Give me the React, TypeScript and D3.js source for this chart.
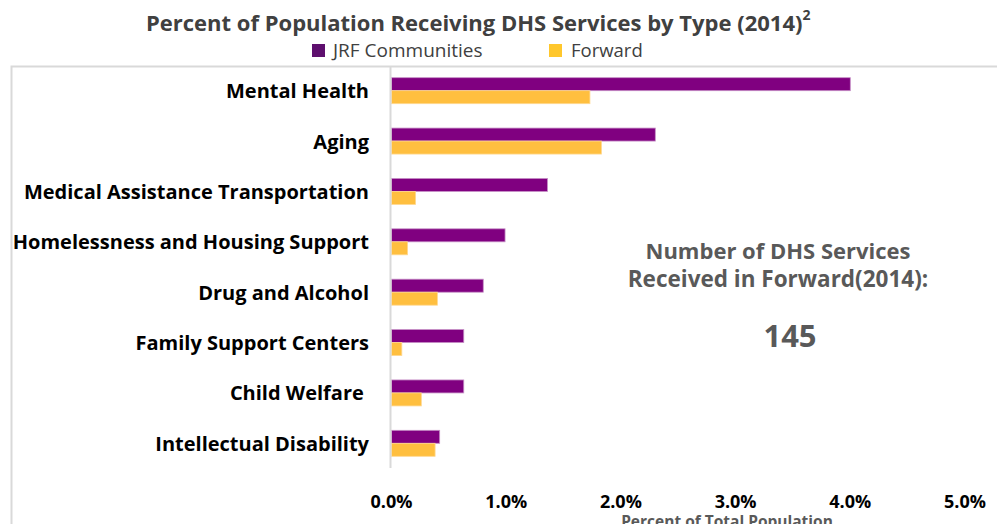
import React from "react";
import * as d3 from "d3";

const categories = [
  "Mental Health",
  "Aging",
  "Medical Assistance Transportation",
  "Homelessness and Housing Support",
  "Drug and Alcohol",
  "Family Support Centers",
  "Child Welfare ",
  "Intellectual Disability",
];
const jrfValues = [0.04, 0.023, 0.0136, 0.0099, 0.008, 0.0063, 0.0063, 0.0042];
const forwardValues = [0.0173, 0.0183, 0.0021, 0.0014, 0.004, 0.0009, 0.0026, 0.0038];
const seriesNames = ["JRF Communities", "Forward"];
const xTicks = [0, 0.01, 0.02, 0.03, 0.04, 0.05];
const servicesCount = "145";

const W = 997;
const H = 524;
const FONT = "'Open Sans', Lato, sans-serif";
const PURPLE = "#800080";
const YELLOW = "#FFBF3F";

export default function App() {
  const x = d3.scaleLinear().domain([0, 0.05]).range([391.5, 965]);
  const y = d3
    .scaleBand<string>()
    .domain(categories)
    .range([65.5, 468.5])
    .paddingInner(0.484)
    .paddingOuter(0.242);
  const inner = d3
    .scaleBand<string>()
    .domain(["jrf", "fwd"])
    .range([0, y.bandwidth()]);
  const fmt = d3.format(".1%");

  return (
    <svg
      width={W}
      height={H}
      style={{ position: "absolute", left: 0, top: 0, background: "#fff" }}
      fontFamily={FONT}
    >
      {/* title */}
      <text x={146} y={30.5} fontSize={22} fontWeight={700} fill="#404040">
        Percent of Population Receiving DHS Services by Type (2014)
        <tspan fontSize={14} dy={-11}>2</tspan>
      </text>

      {/* legend */}
      <rect x={312} y={44} width={13} height={13} fill="#5E0F6E" />
      <text x={333} y={57} fontSize={19} fill="#404040">{seriesNames[0]}</text>
      <rect x={549} y={44} width={13} height={13} fill="#FFC72C" />
      <text x={571} y={57} fontSize={18.5} fill="#404040">{seriesNames[1]}</text>

      {/* border box */}
      <path d={`M11.5,${H + 2} V66.5 H${W + 2}`} fill="none" stroke="#d9d9d9" strokeWidth={2} />

      {/* bars */}
      {categories.map((c, i) => (
        <g key={c}>
          <rect
            x={x(0)}
            y={(y(c) as number) + (inner("jrf") as number)}
            width={x(jrfValues[i]) - x(0)}
            height={inner.bandwidth()}
            fill={PURPLE}
            stroke="#c690c6"
            strokeWidth={0.8}
          />
          <rect
            x={x(0)}
            y={(y(c) as number) + (inner("fwd") as number)}
            width={x(forwardValues[i]) - x(0)}
            height={inner.bandwidth()}
            fill={YELLOW}
            stroke="#ffd890"
            strokeWidth={0.8}
          />
        </g>
      ))}

      {/* axis line */}
      <line x1={x(0) - 1} x2={x(0) - 1} y1={66} y2={468} stroke="#d9d9d9" strokeWidth={2} />

      {/* category labels */}
      {categories.map((c) => (
        <text
          key={c}
          x={369}
          y={(y(c) as number) + y.bandwidth() / 2 + 7.5}
          textAnchor="end"
          fontSize={20}
          fontWeight={700}
          fill="#000"
          style={{ whiteSpace: "pre" }}
        >
          {c}
        </text>
      ))}

      {/* x tick labels */}
      {xTicks.map((t) => (
        <text key={t} x={x(t)} y={508} textAnchor="middle" fontSize={18} fontWeight={700} fill="#000">
          {fmt(t)}
        </text>
      ))}
      <text x={727} y={527} textAnchor="middle" fontSize={15.5} fontWeight={700} fill="#595959">
        Percent of Total Population
      </text>

      {/* annotation */}
      <text x={778} y={259} textAnchor="middle" fontSize={22} fontWeight={700} fill="#595959">
        Number of DHS Services
      </text>
      <text x={778} y={287} textAnchor="middle" fontSize={22.5} fontWeight={700} fill="#595959">
        Received in Forward(2014):
      </text>
      <text x={790} y={347} textAnchor="middle" fontSize={31} fontWeight={700} fill="#595959">
        {servicesCount}
      </text>
    </svg>
  );
}
